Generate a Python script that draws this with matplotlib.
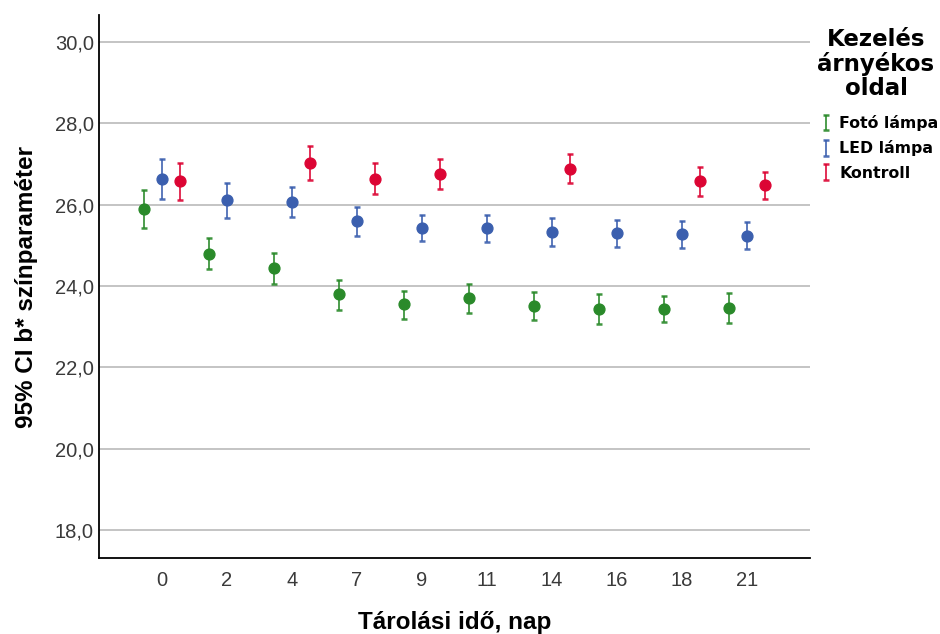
import numpy as np
import matplotlib.pyplot as plt
from matplotlib.ticker import FuncFormatter

plt.rcParams['font.family'] = ['Liberation Sans', 'DejaVu Sans']

# storage time categories (days)
days = ['0', '2', '4', '7', '9', '11', '14', '16', '18', '21']

# mean b* and 95% CI bounds per treatment
foto_mean = [25.89, 24.79, 24.44, 23.79, 23.55, 23.70, 23.51, 23.43, 23.43, 23.45]
foto_lo = [25.42, 24.41, 24.05, 23.41, 23.19, 23.34, 23.16, 23.07, 23.10, 23.09]
foto_hi = [26.36, 25.17, 24.82, 24.15, 23.88, 24.05, 23.85, 23.80, 23.76, 23.82]

led_mean = [26.64, 26.10, 26.06, 25.60, 25.43, 25.43, 25.32, 25.29, 25.27, 25.23]
led_lo = [26.13, 25.66, 25.69, 25.23, 25.11, 25.09, 24.98, 24.96, 24.94, 24.90]
led_hi = [27.13, 26.53, 26.44, 25.94, 25.75, 25.75, 25.66, 25.62, 25.60, 25.56]

nan = np.nan
kontroll_mean = [26.57, nan, 27.02, 26.64, 26.75, nan, 26.88, nan, 26.58, 26.48]
kontroll_lo = [26.12, nan, 26.61, 26.26, 26.38, nan, 26.53, nan, 26.21, 26.13]
kontroll_hi = [27.02, nan, 27.43, 27.02, 27.12, nan, 27.25, nan, 26.93, 26.81]

labels = ['Fotó lámpa', 'LED lámpa', 'Kontroll']
colors = ['#2a8a2a', '#3b5fae', '#dc0534']

series = [
    (foto_mean, foto_lo, foto_hi),
    (led_mean, led_lo, led_hi),
    (kontroll_mean, kontroll_lo, kontroll_hi),
]

fig = plt.figure(figsize=(9.4, 6.34), dpi=100)
ax = fig.add_axes([99 / 940, 76 / 634, 711 / 940, 543 / 634])

x = np.arange(len(days))
offsets = [-0.28, 0.0, 0.28]
handles = []
for (mean, lo, hi), off, col in zip(series, offsets, colors):
    mean = np.array(mean)
    lo = np.array(lo)
    hi = np.array(hi)
    ok = ~np.isnan(mean)
    xs = x[ok] + off
    err = [mean[ok] - lo[ok], hi[ok] - mean[ok]]
    h = ax.errorbar(xs, mean[ok], yerr=err, fmt='none', ecolor=col,
                    elinewidth=1.3, capsize=2.2, capthick=1.8, alpha=0.9, zorder=3)
    handles.append(h)
    ax.plot(xs, mean[ok], 'o', color=col, ms=7.8, mec=col, zorder=4)

ax.set_xlim(-0.97, 9.97)
ax.set_ylim(17.31, 30.66)
ax.set_xticks(x)
ax.set_xticklabels(days)
ax.set_yticks(np.arange(18, 31, 2))
ax.yaxis.set_major_formatter(FuncFormatter(lambda v, p: f'{v:.1f}'.replace('.', ',')))
ax.yaxis.grid(True, color='#bababa', lw=1.2)
ax.set_axisbelow(True)

ax.tick_params(axis='both', length=0, labelsize=14.5, labelcolor='#3a3a3a')
ax.tick_params(axis='y', pad=3.6)
ax.tick_params(axis='x', pad=9.5)

for s in ['top', 'right']:
    ax.spines[s].set_visible(False)
for s in ['left', 'bottom']:
    ax.spines[s].set_linewidth(1.3)
    ax.spines[s].set_color('black')

ax.set_xlabel('Tárolási idő, nap', fontsize=17.5, fontweight='bold', labelpad=15)
ax.set_ylabel('95% CI b* színparaméter', fontsize=17.5, fontweight='bold', labelpad=12)

# legend title drawn on its own so it can sit centred above the entries
fig.text(876 / 940, 1 - 28 / 634, 'Kezelés\nárnyékos\noldal', ha='center', va='top',
         multialignment='center', family='DejaVu Sans', fontweight='bold',
         fontsize=16.5, linespacing=1.05)

fig.legend(handles, labels, loc='upper left', bbox_to_anchor=(821 / 940, 1 - 115 / 634),
           frameon=False, prop={'family': 'DejaVu Sans', 'weight': 'bold', 'size': 11.3},
           handlelength=0.6, handletextpad=0.55, labelspacing=0.6,
           borderpad=0, borderaxespad=0)

fig.savefig('out.png', dpi=100)
